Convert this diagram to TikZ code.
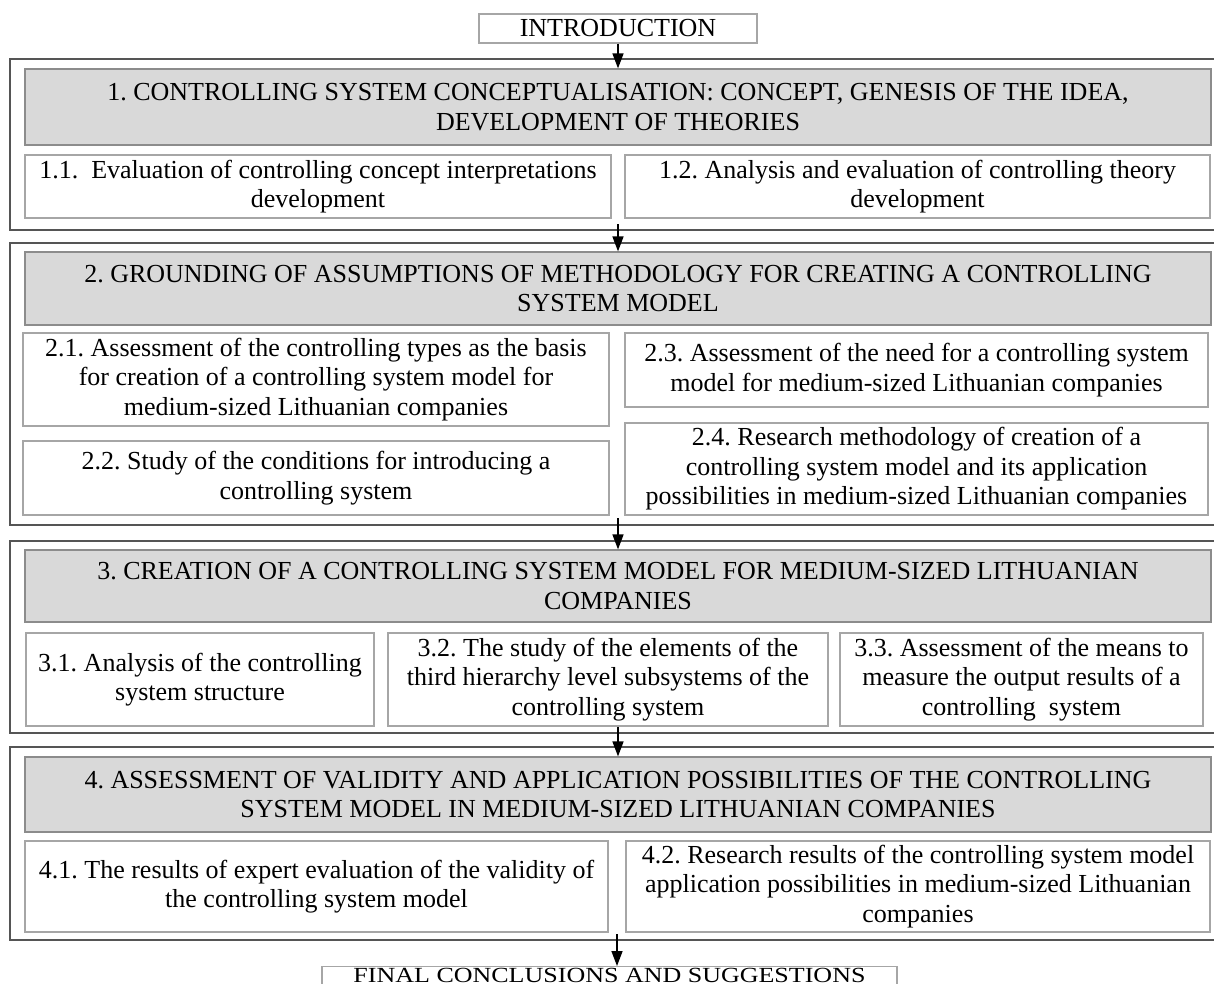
\documentclass[tikz,border=0pt]{standalone}
\usepackage{fontspec}
\usepackage{graphicx}
\setmainfont{Liberation Serif}
\usetikzlibrary{arrows.meta}
\definecolor{framec}{HTML}{555555}
\definecolor{headfill}{HTML}{D9D9D9}
\definecolor{headline}{HTML}{8C8C8C}
\definecolor{subline}{HTML}{A6A6A6}
\frenchspacing
\begin{document}
\begin{tikzpicture}[x=1pt,y=-1pt,
  every node/.style={inner sep=0pt, align=center,
    font=\fontsize{26}{29.5}\selectfont},
  frame/.style={draw=framec, line width=1.8pt, rectangle},
  headbox/.style={draw=headline, fill=headfill, line width=1.2pt, rectangle},
  subbox/.style={draw=subline, fill=white, line width=1.2pt, rectangle},
  endbox/.style={draw=subline, fill=white, line width=1.2pt, rectangle},
  flow/.style={line width=1.5pt, -{Triangle[width=11pt,length=15pt]}}]
\useasboundingbox (0,0) rectangle (1214,983);

% ---- introduction ----
\node[endbox, minimum width=278pt, minimum height=29pt] (intro) at (618,28.5) {INTRODUCTION};

% ---- part 1 ----
\node[frame, minimum width=1206pt, minimum height=171pt] (f1) at (613,144.5) {};
\node[headbox, minimum width=1186pt, minimum height=76pt] (h1) at (618,107)
  {1. CONTROLLING SYSTEM CONCEPTUALISATION: CONCEPT, GENESIS OF THE IDEA,\\DEVELOPMENT OF THEORIES};
\node[subbox, minimum width=586pt, minimum height=63pt] (s11) at (318,186.5)
  {1.1.\ \ Evaluation of controlling concept interpretations\\development};
\node[subbox, minimum width=585pt, minimum height=63pt] (s12) at (917.5,186.5)
  {1.2. Analysis and evaluation of controlling theory\\development};

% ---- part 2 ----
\node[frame, minimum width=1206pt, minimum height=282pt] (f2) at (613,384) {};
\node[headbox, minimum width=1186pt, minimum height=73pt] (h2) at (618,288.5)
  {2. GROUNDING OF ASSUMPTIONS OF METHODOLOGY FOR CREATING A CONTROLLING\\SYSTEM MODEL};
\node[subbox, minimum width=586pt, minimum height=93pt] (s21) at (316,379.5)
  {2.1. Assessment of the controlling types as the basis\\for creation of a controlling system model for\\medium-sized Lithuanian companies};
\node[subbox, minimum width=586pt, minimum height=74pt] (s22) at (316,478)
  {2.2. Study of the conditions for introducing a\\controlling system};
\node[subbox, minimum width=583pt, minimum height=74pt] (s23) at (916.5,370)
  {2.3. Assessment of the need for a controlling system\\model for medium-sized Lithuanian companies};
\node[subbox, minimum width=583pt, minimum height=92pt] (s24) at (916.5,469)
  {2.4. Research methodology of creation of a\\controlling system model and its application\\possibilities in medium-sized Lithuanian companies};

% ---- part 3 ----
\node[frame, minimum width=1206pt, minimum height=192pt] (f3) at (613,637) {};
\node[headbox, minimum width=1186pt, minimum height=72pt] (h3) at (618,586)
  {3. CREATION OF A CONTROLLING SYSTEM MODEL FOR MEDIUM-SIZED LITHUANIAN\\COMPANIES};
\node[subbox, minimum width=348pt, minimum height=93pt] (s31) at (200,679.5)
  {3.1. Analysis of the controlling\\system structure};
\node[subbox, minimum width=440pt, minimum height=93pt] (s32) at (608,679.5)
  {3.2. The study of the elements of the\\third hierarchy level subsystems of the\\controlling system};
\node[subbox, minimum width=363pt, minimum height=93pt] (s33) at (1021.5,679.5)
  {3.3. Assessment of the means to\\measure the output results of a\\controlling\ \ system};

% ---- part 4 ----
\node[frame, minimum width=1206pt, minimum height=193pt] (f4) at (613,843.5) {};
\node[headbox, minimum width=1186pt, minimum height=75pt] (h4) at (618,794.5)
  {4. ASSESSMENT OF VALIDITY AND APPLICATION POSSIBILITIES OF THE CONTROLLING\\SYSTEM MODEL IN MEDIUM-SIZED LITHUANIAN COMPANIES};
\node[subbox, minimum width=583pt, minimum height=91pt] (s41) at (316.5,886.5)
  {4.1. The results of expert evaluation of the validity of\\the controlling system model};
\node[subbox, minimum width=584pt, minimum height=91pt] (s42) at (918,886.5)
  {4.2. Research results of the controlling system model\\application possibilities in medium-sized Lithuanian\\companies};

% ---- conclusions (box runs past the lower edge) ----
\node[endbox, minimum width=575pt, text height=16pt, text depth=24pt, anchor=north] (final) at (609.5,966)
  {\scalebox{1}[0.83]{FINAL CONCLUSIONS AND SUGGESTIONS}};

% ---- flow arrows ----
\coordinate (t1) at (618,224);
\coordinate (t2) at (618,518);
\coordinate (t3) at (618,727);
\coordinate (t4) at (617,934);
\draw[flow] (intro.south) -- (intro.south |- h1.north);
\draw[flow] (t1) -- (t1 |- h2.north);
\draw[flow] (t2) -- (t2 |- h3.north);
\draw[flow] (t3) -- (t3 |- h4.north);
\draw[flow] (t4) -- (t4 |- final.north);
\end{tikzpicture}
\end{document}
